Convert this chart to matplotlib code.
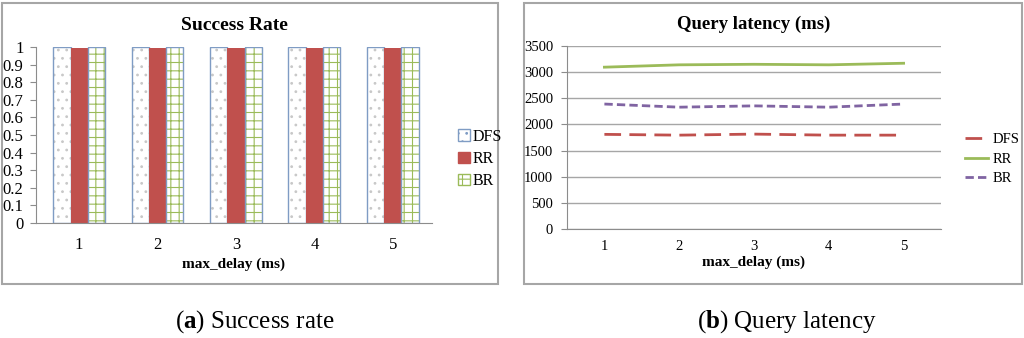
import matplotlib
matplotlib.use("Agg")
from matplotlib import pyplot as plt
from matplotlib.patches import Rectangle, Patch
import numpy as np

plt.rcParams['font.family'] = ['Liberation Serif', 'DejaVu Serif']
plt.rcParams['mathtext.fontset'] = 'custom'
plt.rcParams['mathtext.rm'] = 'Liberation Serif'
plt.rcParams['mathtext.bf'] = 'Liberation Serif:bold'

delays = [1, 2, 3, 4, 5]
series = ['DFS', 'RR', 'BR']

success_dfs = [1.0, 1.0, 1.0, 1.0, 1.0]
success_rr = [0.995, 0.995, 0.995, 0.995, 0.995]
success_br = [1.0, 1.0, 1.0, 1.0, 1.0]

latency_dfs = [1810, 1795, 1815, 1795, 1795]
latency_rr = [3095, 3140, 3150, 3140, 3170]
latency_br = [2390, 2330, 2355, 2330, 2390]

W, H = 1024, 338
fig = plt.figure(figsize=(W / 100, H / 100), dpi=100)

def px_axes(x0, y0, x1, y1):
    return fig.add_axes([x0 / W, 1 - y1 / H, (x1 - x0) / W, (y1 - y0) / H])

# panel borders
for (x0, y0, x1, y1) in [(2, 3, 498, 284), (524, 3, 1022, 284)]:
    fig.patches.append(Rectangle((x0 / W, 1 - y1 / H), (x1 - x0) / W, (y1 - y0) / H,
                                 transform=fig.transFigure, fill=False,
                                 edgecolor='#a6a6a6', lw=1.5))

blue = '#7f9cc4'
red = '#c0504d'
green = '#9bbb59'
purple = '#8064a2'
grey = '#8c8c8c'

# ---- (a) success rate ----
ax1 = px_axes(36, 47, 432, 223)
x = np.array(delays)
bw = 0.22
plt.rcParams['hatch.linewidth'] = 0.8
ax1.bar(x - bw, success_dfs, bw, color='white', edgecolor='#c8c8c8', hatch='..', lw=0)
ax1.bar(x - bw, success_dfs, bw, fill=False, edgecolor=blue, lw=1.0)
ax1.bar(x, success_rr, bw, color=red, edgecolor=red, lw=0)
ax1.bar(x + bw, success_br, bw, color='white', edgecolor=green, hatch='++', lw=0)
ax1.bar(x + bw, success_br, bw, fill=False, edgecolor=blue, lw=1.0)
ax1.set_xlim(0.45, 5.5)
ax1.set_ylim(0, 1)
ax1.set_yticks(np.arange(0, 1.01, 0.1))
ax1.set_yticklabels(['0'] + ['%.1f' % v for v in np.arange(0.1, 0.95, 0.1)] + ['1'])
ax1.set_xticks(delays)
ax1.tick_params(axis='both', labelsize=12, length=0)
ax1.tick_params(axis='x', pad=10)
ax1.tick_params(axis='y', pad=5, length=4, color=grey)
for s in ['top', 'right']:
    ax1.spines[s].set_visible(False)
for s in ['left', 'bottom']:
    ax1.spines[s].set_color(grey)
ax1.set_title('Success Rate', fontsize=14, fontweight='bold', pad=12)
ax1.set_xlabel('max_delay (ms)', fontsize=11, fontweight='bold', labelpad=3)
h1 = [Patch(facecolor='white', edgecolor=blue, hatch='..'),
      Patch(facecolor=red, edgecolor=red),
      Patch(facecolor='white', edgecolor=green, hatch='++')]
fig.legend(h1, series, loc='center left', bbox_to_anchor=(444 / W, 1 - 159 / H),
           frameon=False, fontsize=11.5, handlelength=0.7, handleheight=0.7,
           handletextpad=0.2, labelspacing=0.4)

# ---- (b) query latency ----
ax2 = px_axes(567, 46, 941, 229)
ax2.plot(delays, latency_dfs, color=red, lw=2, dashes=(6, 3), label='DFS')
ax2.plot(delays, latency_rr, color=green, lw=2, label='RR')
ax2.plot(delays, latency_br, color=purple, lw=2, dashes=(3, 1.5), label='BR')
ax2.set_xlim(0.5, 5.5)
ax2.set_ylim(0, 3500)
ax2.set_yticks(range(0, 3501, 500))
ax2.set_xticks(delays)
ax2.yaxis.grid(True, color='#a6a6a6', lw=1)
ax2.set_axisbelow(True)
ax2.tick_params(axis='both', labelsize=10.5, length=0)
ax2.tick_params(axis='x', pad=8)
ax2.tick_params(axis='y', pad=6, length=4, color=grey)
for s in ['top', 'right']:
    ax2.spines[s].set_visible(False)
for s in ['left', 'bottom']:
    ax2.spines[s].set_color(grey)
ax2.set_title('Query latency (ms)', fontsize=13.5, fontweight='bold', pad=12)
ax2.set_xlabel('max_delay (ms)', fontsize=11, fontweight='bold', labelpad=2)
fig.legend(loc='center left', bbox_to_anchor=(952 / W, 1 - 159 / H),
           frameon=False, fontsize=10.5, handlelength=1.6, handletextpad=0.3,
           labelspacing=0.45)

# captions
fig.text(255 / W, 1 - 322 / H, r'($\mathbf{a}$) Success rate', ha='center', va='center', fontsize=18)
fig.text(787 / W, 1 - 322 / H, r'($\mathbf{b}$) Query latency', ha='center', va='center', fontsize=18)

fig.savefig('out.png', dpi=100)
